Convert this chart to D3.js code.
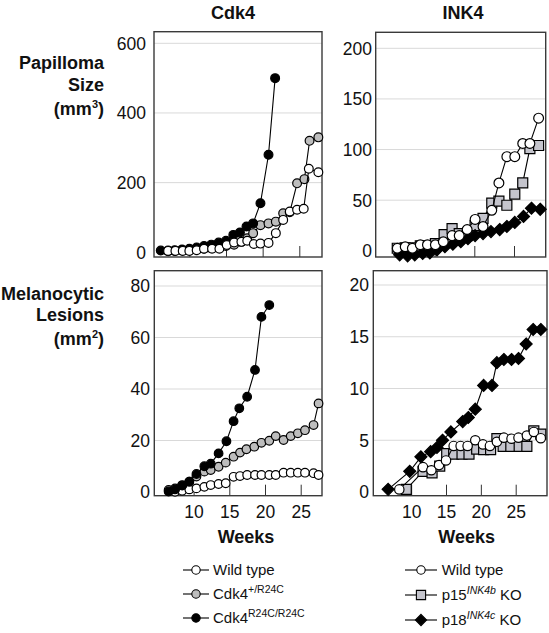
<!DOCTYPE html>
<html><head><meta charset="utf-8">
<script src="https://cdn.jsdelivr.net/npm/d3@7"></script>
<style>
body{margin:0;background:#fff;}
svg{display:block;}
</style></head>
<body><svg id="chart" width="549" height="633"></svg>
<script>
// ---------- DATA ----------
const weekTicks = [10, 15, 20, 25];
const papCdkTicks = [0, 200, 400, 600];
const papInkTicks = [0, 50, 100, 150, 200];
const melCdkTicks = [0, 20, 40, 60, 80];
const melInkTicks = [0, 5, 10, 15, 20];

const columnTitles = ["Cdk4", "INK4"];

// Papilloma size (mm3), Cdk4 column
const papCdkWtWeeks  = [7.1,8.1,9.1,10,11,12,13.1,14.1,15.1,16.1,17.1,17.9,18.8,19.7,20.8,21.8,22.8,23.7,24.7,25.6,26.3,27.6];
const papCdkWtValues = [4,4,4,4,6,10,10,10,21,28,30,33,24,25,27,55,93,117,122,125,240,230];
const papCdkHetWeeks  = [7.1,8,9,10,11,12,13,14,15,16.1,17.1,17.9,18.7,19.7,20.8,21.8,22.8,23.7,24.7,25.7,26.4,27.6];
const papCdkHetValues = [3,4,5,6,8,10,12,14,18,22,30,40,55,78,83,88,112,115,198,210,320,330];
const papCdkHomWeeks  = [6.1,7.1,8,9,10,11,12,13,14,15,16,16.9,17.8,18.7,19.7,20.8,21.7];
const papCdkHomValues = [5,5,6,8,10,14,18,22,28,33,50,57,74,83,141,280,500];

// Papilloma size (mm3), INK4 column
const papInkWtWeeks  = [10.3,11.3,12.2,13.2,14.1,15.1,16.1,17.2,18.1,19.1,20.1,21.1,22.2,23.1,24.1,25.1,26.1,27,28.1];
const papInkWtValues = [2.5,4,2.5,6,6,6,9,15,15,21,31,24,40,67,93,93,106,106,131];
const papInkP15Weeks  = [10.3,11.3,12.2,13.2,14.1,15.1,16.2,17.2,18.1,19.1,20.1,21.1,22.2,23.1,24.1,25.1,26.1,27,28.1];
const papInkP15Values = [2.5,3,3,5,5,7,16,22,17,15,25,32,47,49,45,56,67,101,104];
const papInkP18Weeks  = [10.6,11.6,12.5,13.5,14.4,15.3,16.3,17.3,18.3,19.2,20.1,21.1,22.1,23.2,24.1,25.1,26.2,27.2,28.3];
const papInkP18Values = [-4,-5,-4,-2.5,-2,1,4,6.5,9,12,15,17,19,21,24,28,34,42,41];

// Melanocytic lesions (mm2), Cdk4 column
const melCdkWtWeeks  = [7.4,8.4,9.4,10.4,11.5,12.4,13.5,14.5,15.6,16.5,17.5,18.6,19.5,20.6,21.5,22.6,23.6,24.6,25.6,26.8,27.5];
const melCdkWtValues = [0.1,0.5,1,1.4,2,2.7,3.1,3.4,5.9,6.2,6.6,6.6,6.6,6.6,6.6,7.5,7.5,7.5,7.5,7.3,6.6];
const melCdkHetWeeks  = [6.5,7.4,8.4,9.4,10.4,11.5,12.4,13.5,14.5,15.6,16.5,17.4,18.5,19.5,20.6,21.5,22.6,23.6,24.6,25.6,26.8,27.5];
const melCdkHetValues = [0.8,1.4,2.7,4,6,7.9,8.5,9.8,11.4,13.7,15.3,16.6,17.6,19.1,19.9,21.7,20.2,21.7,22.8,24,26,34.4];
const melCdkHomWeeks  = [6.5,7.4,8.4,9.4,10.4,11.5,12.4,13.5,14.6,15.6,16.4,17.5,18.6,19.5,20.6];
const melCdkHomValues = [0.2,1,2.5,4,7,10,11,15,19.7,27.5,32.5,37,47.4,68,72.6];

// Melanocytic lesions (mm2), INK4 column
const melInkWtWeeks  = [8.3,11.7,12.9,14,15,16.1,17.1,18.1,19.2,20.3,21.3,22.3,23.3,24.4,25.4,26.6,27.6,28.6];
const melInkWtValues = [0.25,2.4,2.1,2.6,3.05,4.45,4.45,4.45,5,4.6,4.45,4.85,5.25,5.15,5.25,5.45,5.8,5.2];
const melInkP15Weeks  = [9.3,11.7,13,14.1,15.1,16.1,17.3,18.3,19.4,20.4,21.4,22.3,23.2,24.3,25.5,26.6,27.6,28.6];
const melInkP15Values = [0.26,2,1.85,2.5,3.7,3.65,3.65,3.65,4.15,4.1,4.1,5.15,4.4,4.4,4.4,4.4,5.9,5.6];
const melInkP18Weeks  = [6.7,9.8,11.4,12.8,13.7,14.5,15.7,17.4,18.2,19.2,20.4,21.6,22.3,23.3,24.4,25.4,26.5,27.5,28.6];
const melInkP18Values = [0.26,2,3.4,3.9,4.3,5,5.8,6.8,7.2,8,10.3,10.3,12.5,12.8,12.8,12.9,14.3,15.7,15.7];

// ---------- STYLE / LAYOUT ----------
const FONT = '"Liberation Sans", Arial, Helvetica, sans-serif';
const GRAY_C = "#bdbdbd", GRAY_S = "#c4c4cc";
const svg = d3.select("#chart").attr("font-family", FONT);

function markerPath(shape, s) {
  if (shape === "circle") return d3.symbol(d3.symbolCircle, Math.PI * s * s)();
  if (shape === "square") return `M${-s},${-s}H${s}V${s}H${-s}Z`;
  return `M0,${-s}L${s},0L0,${s}L${-s},0Z`;
}

const panels = [
  { frame:[154,31.7,322,257], xr:[189.35,299.3], yr:[252.3,43.3], yTicks:papCdkTicks, labelRight:146, xLabels:false,
    series:[
      {weeks:papCdkHetWeeks, values:papCdkHetValues, shape:"circle", size:4.4, fill:GRAY_C},
      {weeks:papCdkHomWeeks, values:papCdkHomValues, shape:"circle", size:4.4, fill:"#000"},
      {weeks:papCdkWtWeeks, values:papCdkWtValues, shape:"circle", size:4.4, fill:"#fff"} ]},
  { frame:[375.7,32.3,545.7,257], xr:[394.9,514], yr:[250.8,48.3], yTicks:papInkTicks, labelRight:372, xLabels:false,
    series:[
      {weeks:papInkP15Weeks, values:papInkP15Values, shape:"square", size:5, fill:GRAY_S},
      {weeks:papInkP18Weeks, values:papInkP18Values, shape:"diamond", size:6, fill:"#000"},
      {weeks:papInkWtWeeks, values:papInkWtValues, shape:"circle", size:4.9, fill:"#fff"} ]},
  { frame:[154.3,270.7,322,495.7], xr:[193.6,300.7], yr:[492,286], yTicks:melCdkTicks, labelRight:150, xLabels:true,
    series:[
      {weeks:melCdkWtWeeks, values:melCdkWtValues, shape:"circle", size:4.3, fill:"#fff"},
      {weeks:melCdkHetWeeks, values:melCdkHetValues, shape:"circle", size:4.3, fill:GRAY_C},
      {weeks:melCdkHomWeeks, values:melCdkHomValues, shape:"circle", size:4.3, fill:"#000"} ]},
  { frame:[373.3,270.7,547,495.7], xr:[411.15,515.7], yr:[492,285], yTicks:melInkTicks, labelRight:369, xLabels:true,
    series:[
      {weeks:melInkP15Weeks, values:melInkP15Values, shape:"square", size:5, fill:GRAY_S},
      {weeks:melInkWtWeeks, values:melInkWtValues, shape:"circle", size:4.7, fill:"#fff"},
      {weeks:melInkP18Weeks, values:melInkP18Values, shape:"diamond", size:6, fill:"#000"} ]}
];

panels.forEach(p => {
  const [fx0, fy0, fx1, fy1] = p.frame;
  const x = d3.scaleLinear().domain([weekTicks[0], weekTicks[weekTicks.length-1]]).range(p.xr);
  const y = d3.scaleLinear().domain([0, p.yTicks[p.yTicks.length-1]]).range(p.yr);
  const g = svg.append("g");

  g.append("g").selectAll("line").data(p.yTicks.filter(t => t > 0)).join("line")
    .attr("x1", fx0).attr("x2", fx1).attr("y1", d => y(d)).attr("y2", d => y(d))
    .attr("stroke", "#d9d9d9").attr("stroke-width", 1);

  g.append("g").attr("transform", `translate(0,${fy1})`)
    .call(d3.axisTop(x).tickValues(weekTicks).tickSize(11).tickFormat(""))
    .call(a => a.select(".domain").remove())
    .selectAll("line").attr("stroke", "#333");

  g.append("rect").attr("x", fx0).attr("y", fy0).attr("width", fx1 - fx0).attr("height", fy1 - fy0)
    .attr("fill", "none").attr("stroke", "#3a3a3a").attr("stroke-width", 1.4);

  g.append("g").attr("transform", `translate(${p.labelRight},0)`)
    .call(d3.axisLeft(y).tickValues(p.yTicks).tickSize(0).tickPadding(0))
    .call(a => a.select(".domain").remove())
    .selectAll("text").attr("font-size", 17.5).attr("font-family", FONT).attr("fill", "#111").attr("dy", "0.34em");

  if (p.xLabels) {
    g.append("g").attr("transform", `translate(0,518)`)
      .call(d3.axisBottom(x).tickValues(weekTicks).tickSize(0).tickPadding(0))
      .call(a => a.select(".domain").remove())
      .selectAll("text").attr("font-size", 17.5).attr("font-family", FONT).attr("fill", "#111").attr("dy", null).attr("y", 0);
  }

  p.series.forEach(s => {
    const pts = s.weeks.map((w, i) => ({ w, v: s.values[i] }));
    g.append("path").datum(pts)
      .attr("d", d3.line().x(d => x(d.w)).y(d => y(d.v)))
      .attr("fill", "none").attr("stroke", "#000").attr("stroke-width", 1.1);
    g.append("g").selectAll("path").data(pts).join("path")
      .attr("transform", d => `translate(${x(d.w)},${y(d.v)})`)
      .attr("d", markerPath(s.shape, s.size))
      .attr("fill", s.fill).attr("stroke", "#000").attr("stroke-width", 1.2);
  });
});

// column titles
svg.selectAll("text.ctitle").data(columnTitles).join("text").attr("class", "ctitle")
  .attr("x", (d, i) => [233, 463][i]).attr("y", 18.5).attr("text-anchor", "middle")
  .attr("font-size", 18).attr("font-weight", "bold").attr("fill", "#111").text(d => d);

// row labels
function rowLabel(lines, ys) {
  lines.forEach((parts, i) => {
    const t = svg.append("text").attr("x", 104).attr("y", ys[i]).attr("dy", "0.35em")
      .attr("text-anchor", "end").attr("font-size", 18).attr("font-weight", "bold").attr("fill", "#111");
    addParts(t, parts, 11, 7);
  });
}
function addParts(t, parts, supSize, rise) {
  let up = false;
  parts.forEach(pt => {
    const ts = t.append("tspan").text(pt.t);
    if (pt.sup && !up) { ts.attr("dy", -rise).attr("font-size", supSize); up = true; }
    else if (pt.sup) { ts.attr("font-size", supSize); }
    else if (up) { ts.attr("dy", rise); up = false; }
    if (pt.it) ts.attr("font-style", "italic");
  });
}
rowLabel([[{t:"Papilloma"}],[{t:"Size"}],[{t:"(mm"},{t:"3",sup:true},{t:")"}]], [62.3, 85, 108.3]);
rowLabel([[{t:"Melanocytic"}],[{t:"Lesions"}],[{t:"(mm"},{t:"2",sup:true},{t:")"}]], [293.3, 315, 338.3]);

// x axis titles
[246, 466.7].forEach(cx => svg.append("text").attr("x", cx).attr("y", 537).attr("dy", "0.35em")
  .attr("text-anchor", "middle").attr("font-size", 18).attr("font-weight", "bold").attr("fill", "#111").text("Weeks"));

// legends
const legendLeft = [
  { shape:"circle", size:4.2, fill:"#fff", parts:[{t:"Wild type"}] },
  { shape:"circle", size:4.2, fill:GRAY_C, parts:[{t:"Cdk4"},{t:"+/R24C",sup:true}] },
  { shape:"circle", size:4.2, fill:"#000", parts:[{t:"Cdk4"},{t:"R24C/R24C",sup:true}] }
];
const legendRight = [
  { shape:"circle", size:4.2, fill:"#fff", parts:[{t:"Wild type"}] },
  { shape:"square", size:4.6, fill:GRAY_S, parts:[{t:"p15"},{t:"INK4b",sup:true,it:true},{t:" KO"}] },
  { shape:"diamond", size:5.6, fill:"#000", parts:[{t:"p18"},{t:"INK4c",sup:true,it:true},{t:" KO"}] }
];
function drawLegend(items, lx0, lx1, mx, tx, ys) {
  items.forEach((it, i) => {
    const yy = ys[i];
    svg.append("line").attr("x1", lx0).attr("x2", lx1).attr("y1", yy).attr("y2", yy).attr("stroke", "#000").attr("stroke-width", 1.1);
    svg.append("path").attr("transform", `translate(${mx},${yy})`).attr("d", markerPath(it.shape, it.size))
      .attr("fill", it.fill).attr("stroke", "#000").attr("stroke-width", 1.1);
    const t = svg.append("text").attr("x", tx).attr("y", yy).attr("dy", "0.35em").attr("font-size", 15).attr("fill", "#111");
    addParts(t, it.parts, 10.5, 6);
  });
}
drawLegend(legendLeft, 183, 209, 196, 213, [570, 594, 618]);
drawLegend(legendRight, 405, 437, 421, 441.7, [570, 595, 620]);
</script>
</body></html>
